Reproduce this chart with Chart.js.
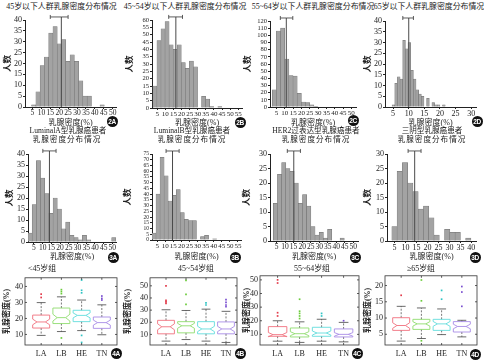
<!DOCTYPE html>
<html><head><meta charset="utf-8">
<script src="https://cdn.jsdelivr.net/npm/chart.js@4.4.1/dist/chart.umd.min.js"></script>
<style>
html,body{margin:0;padding:0;background:#fff}
body{width:484px;height:360px;position:relative;overflow:hidden}
.t{position:absolute;white-space:nowrap;transform:translate(-50%,-50%);font-family:"Liberation Serif","Noto Sans CJK SC",serif;font-size:7.9px;line-height:1;color:#222}
.bd{position:absolute;width:11px;height:11px;margin:-5.5px 0 0 -5.5px;border-radius:50%;background:#111;color:#fff;font:bold 6.5px "Liberation Sans",sans-serif;display:flex;align-items:center;justify-content:center;letter-spacing:-0.3px}
canvas{position:absolute}
</style></head><body>
<script>
// ================= DATA =================
const xAxisTitle = '乳腺密度(%)';
const yAxisTitle = '人数';
const boxGroups = ['LA', 'LB', 'HE', 'TN'];

// Fig 2A  <45
const bins2A   = [5.7, 8.1, 10.5, 12.9, 15.3, 17.7, 20.1, 22.5, 24.9, 27.3, 29.7, 32.1, 34.5, 36.9, 39.3, 41.7, 44.1];
const counts2A = [1, 7, 19, 23, 34, 37, 29, 31, 21, 24, 21, 12, 5, 5, 0, 0, 1];
const mean2A   = [15.0, 21.2, 25.0];
const xTicks2A = [5, 10, 15, 20, 25, 30, 35, 40, 45, 50];
const yTicks2A = [0, 5, 10, 15, 20, 25, 30, 35, 40];

// Fig 2B  45~54
const bins2B   = [3.6, 6.1, 8.6, 11.1, 13.6, 16.1, 18.6, 21.1, 23.6, 26.1, 28.6, 31.1, 33.6, 36.1, 38.6, 41.1, 43.6];
const counts2B = [15, 46, 54, 59, 43, 40, 43, 31, 27, 32, 28, 0, 8, 6, 1, 0, 1];
const mean2B   = [12.1, 16.5, 20.6];
const xTicks2B = [5, 10, 15, 20, 25, 30, 35, 40, 45, 50, 55];
const yTicks2B = [0, 5, 10, 15, 20, 25, 30, 35, 40, 45, 50, 55, 60];

// Fig 2C  55~64
const bins2C   = [3.7, 6.2, 8.7, 11.2, 13.7, 16.2, 18.7, 21.2, 23.7, 26.2, 28.7];
const counts2C = [24, 106, 110, 67, 44, 43, 19, 7, 6, 3, 1];
const mean2C   = [7.3, 10.9, 14.8];
const xTicks2C = [5, 10, 15, 20, 25, 30, 35, 40, 45, 50];
const yTicks2C = [0, 10, 20, 30, 40, 50, 60, 70, 80, 90, 100, 110, 120];

// Fig 2D  >=65
const bins2D   = [5.1, 5.95, 6.8, 7.65, 8.5, 9.35, 10.2, 11.05, 11.9, 12.75, 13.6, 14.45, 15.3, 16.15, 17.0, 17.85, 18.7, 19.55, 20.4, 21.25];
const counts2D = [1, 11, 14, 13, 31, 27, 30, 17, 13, 8, 6, 5, 0, 4, 0, 2, 1, 1, 0, 1];
const mean2D   = [8.1, 10.0, 11.5];
const xTicks2D = [5, 10, 15, 20, 25, 30];
const yTicks2D = [0, 5, 10, 15, 20, 25, 30, 35, 40];

// Fig 3A  Luminal A
const bins3A   = [2.8, 5.2, 7.6, 10.0, 12.4, 14.8, 17.2, 19.6, 22.0, 24.4, 26.8, 29.2, 31.6, 34.0, 36.4, 38.8, 41.2, 43.6, 46.0, 48.4, 50.8];
const counts3A = [4, 17, 37, 29, 22, 13, 20, 15, 6, 9, 3, 2, 1, 3, 1, 0, 0, 0, 0, 0, 2];
const mean3A   = [10.1, 13.9, 17.7];
const xTicks3A = [5, 10, 15, 20, 25, 30, 35, 40, 45, 50];
const yTicks3A = [0, 5, 10, 15, 20, 25, 30, 35, 40];

// Fig 3B  Luminal B
const bins3B   = [3.05, 5.55, 8.05, 10.55, 13.05, 15.55, 18.05, 20.55, 23.05, 25.55, 28.05, 30.55, 33.05, 35.55, 38.05, 40.55];
const counts3B = [6, 40, 72, 56, 34, 39, 44, 24, 18, 17, 17, 0, 3, 4, 0, 1];
const mean3B   = [10.5, 14.5, 18.6];
const xTicks3B = [5, 10, 15, 20, 25, 30, 35, 40, 45, 50, 55];
const yTicks3B = [0, 5, 10, 15, 20, 25, 30, 35, 40, 45, 50, 55, 60, 65, 70, 75];

// Fig 3C  HER2
const bins3C   = [4.3, 6.75, 9.2, 11.65, 14.1, 16.55, 19.0, 21.45, 23.9, 26.35, 28.8, 31.25, 33.7, 36.15, 38.6, 41.05, 43.5];
const counts3C = [13, 23, 27, 25, 24, 20, 13, 16, 12, 5, 2, 3, 1, 4, 0, 0, 1];
const mean3C   = [11.3, 15.1, 19.0];
const xTicks3C = [5, 10, 15, 20, 25, 30, 35, 40, 45, 50];
const yTicks3C = [0, 5, 10, 15, 20, 25, 30];

// Fig 3D  triple negative
const bins3D   = [5.0, 7.4, 9.8, 12.2, 14.6, 17.0, 19.4, 21.8, 24.2, 26.6, 29.0, 31.4, 33.8, 36.2, 38.6];
const counts3D = [5, 24, 27, 20, 17, 11, 12, 8, 2, 0, 4, 3, 3, 0, 1];
const mean3D   = [11.2, 14.2, 17.1];
const xTicks3D = [5, 10, 15, 20, 25, 30, 35, 40];
const yTicks3D = [0, 5, 10, 15, 20, 25, 30];

// Fig 4A  <45   (order LA, LB, HE, TN)
const lo4A  = [9.4, 11.8, 12.4, 9.8];
const q1_4A = [14.0, 16.8, 18.0, 13.8];
const med4A = [17.8, 20.5, 21.9, 17.4];
const q3_4A = [22.1, 26.5, 25.1, 20.9];
const hi4A  = [29.9, 33.5, 31.5, 28.5];
const out4A = [[33.1, 35.2], [35.5, 36.8, 38.0, 7.8], [36.0, 37.6, 44.0, 9.4, 5.0], [31.5, 32.5, 34.0]];
const yTicks4A = [10, 20, 30, 40];

// Fig 4B  45~54
const lo4B  = [4.5, 5.8, 4.5, 3.4];
const q1_4B = [10.5, 11.3, 10.5, 10.5];
const med4B = [16.3, 17.1, 14.5, 14.5];
const q3_4B = [21.6, 20.5, 20.5, 20.3];
const hi4B  = [30.3, 29.7, 30.8, 29.0];
const out4B = [[35.5, 36.8, 38.0, 50.0], [34.7, 43.0, 54.5], [34.2, 36.0], [32.9, 34.2, 36.3, 38.7]];
const yTicks4B = [10, 20, 30, 40, 50];

// Fig 4C  55~64
const lo4C  = [5.0, 4.1, 5.0, 4.5];
const q1_4C = [8.6, 8.1, 8.6, 8.1];
const med4C = [9.8, 10.5, 11.0, 10.0];
const q3_4C = [15.7, 14.7, 15.2, 14.0];
const hi4C  = [20.0, 19.2, 21.1, 18.8];
const out4C = [[23.5, 25.9, 47.7, 50.0], [21.6, 23.5, 25.4, 27.0, 35.8], [23.5, 25.4], [20.0]];
const yTicks4C = [10, 20, 30, 40, 50];

// Fig 4D  >=65
const lo4D  = [2.9, 3.7, 4.9, 4.2];
const q1_4D = [6.2, 6.5, 6.2, 5.7];
const med4D = [7.7, 8.2, 8.2, 7.4];
const q3_4D = [10.1, 9.6, 9.6, 8.9];
const hi4D  = [13.6, 13.1, 12.8, 9.3];
const out4D = [[17.0], [15.3, 21.7, 3.0], [15.8, 18.5], [13.6, 18.0, 19.7]];
const yTicks4D = [5, 10, 15, 20];

// ================= RENDER =================
const SERIF = '"Liberation Serif","Noto Sans CJK SC",serif';
Chart.defaults.font.family = SERIF;
Chart.defaults.color = '#222';
Chart.defaults.animation = false;
Chart.defaults.plugins.legend.display = false;
Chart.defaults.plugins.tooltip.enabled = false;

const BOX_LINE = ['#f0707e', '#8fdc6e', '#62dcdc', '#a88ce6'];
const BOX_DOT  = ['#e23a4a', '#6ccc3c', '#30c4c4', '#7a4fd0'];

function mkCanvas(l, t, w, h) {
  const c = document.createElement('canvas');
  c.width = w; c.height = h;
  c.style.cssText = `left:${l}px;top:${t}px;width:${w}px;height:${h}px`;
  document.body.appendChild(c);
  return c;
}
function text(str, x, y, size, extra) {
  const d = document.createElement('div');
  d.className = 't'; d.textContent = str;
  d.style.left = x + 'px'; d.style.top = y + 'px';
  if (size) d.style.fontSize = size + 'px';
  if (extra) Object.assign(d.style, extra);
  document.body.appendChild(d);
}
function badge(str, x, y) {
  const d = document.createElement('div');
  d.className = 'bd'; d.textContent = str;
  d.style.left = x + 'px'; d.style.top = y + 'px';
  document.body.appendChild(d);
}

function hist(p) {
  const W = p.cv.r - p.cv.l, H = p.cv.b - p.cv.t;
  const c = mkCanvas(p.cv.l, p.cv.t, W, H);
  const top = p.yTicks[p.yTicks.length - 1] * 1.035;
  new Chart(c, {
    type: 'bar',
    data: { datasets: [
      { type: 'bar', data: p.bins.map((x, i) => ({ x, y: p.counts[i] })),
        backgroundColor: '#a3a3a3', borderColor: '#6f6f6f', borderWidth: 0.5,
        barPercentage: 1, categoryPercentage: 1, order: 3 },
      { type: 'line', data: [{ x: p.mean[1], y: 0 }, { x: p.mean[1], y: top }],
        borderColor: '#4a4a4a', borderWidth: 1, pointRadius: 0, clip: false, order: 2 },
      { type: 'line', data: [{ x: p.mean[0], y: top }, { x: p.mean[1], y: top }, { x: p.mean[2], y: top }],
        borderColor: '#333', borderWidth: 0.8, pointStyle: 'line', rotation: 90,
        pointRadius: [2, 0, 2], pointBorderColor: '#333', pointBorderWidth: 0.8, clip: false, order: 1 }
    ] },
    options: {
      responsive: false,
      layout: { padding: { left: 0, top: p.area.t - p.cv.t, right: p.cv.r - p.area.r, bottom: 0 } },
      scales: {
        x: { type: 'linear', min: p.xMin, max: p.xMax, offset: false,
          afterBuildTicks: s => { s.ticks = p.xTicks.map(v => ({ value: v })); },
          afterFit: s => { s.height = p.cv.b - p.area.b; },
          ticks: { autoSkip: false, maxRotation: 0, minRotation: 0, font: { size: p.xFont }, padding: 0, color: '#222' },
          grid: { drawOnChartArea: false, drawTicks: true, tickLength: 2, color: '#222', offset: false },
          border: { display: true, color: '#222', width: 1 },
          title: { display: true, text: xAxisTitle, font: { size: 8 }, padding: 0, color: '#222' } },
        y: { min: 0, max: p.yTicks[p.yTicks.length - 1],
          afterBuildTicks: s => { s.ticks = p.yTicks.map(v => ({ value: v })); },
          afterFit: s => { s.width = p.area.l - p.cv.l; },
          ticks: { autoSkip: false, font: { size: p.yFont }, padding: 1, color: '#222' },
          grid: { drawOnChartArea: false, drawTicks: true, tickLength: 2, color: '#222' },
          border: { display: true, color: '#222', width: 1 },
          title: { display: true, text: yAxisTitle, font: { size: 8.5, weight: 'bold' }, padding: { top: p.yTitlePad, bottom: 0 }, color: '#222' } }
      }
    }
  });
}

function boxplot(p) {
  const W = p.cv.r - p.cv.l, H = p.cv.b - p.cv.t;
  const c = mkCanvas(p.cv.l, p.cv.t, W, H);
  const BOXW = 0.84, CAPW = 0.44;
  const drawer = {
    id: 'notchedBoxes',
    beforeDatasetsDraw(chart) {
      const ctx = chart.ctx, xs = chart.scales.x, ys = chart.scales.y;
      const hw = (xs.getPixelForValue(1 + BOXW / 2) - xs.getPixelForValue(1));
      const cw = (xs.getPixelForValue(1 + CAPW / 2) - xs.getPixelForValue(1));
      ctx.save();
      boxGroups.forEach((g, i) => {
        const xc = xs.getPixelForValue(i + 1);
        const yq1 = ys.getPixelForValue(p.q1[i]), yq3 = ys.getPixelForValue(p.q3[i]);
        const ym = ys.getPixelForValue(p.med[i]);
        const nd = 0.22 * (p.q3[i] - p.q1[i]);
        const yn1 = ys.getPixelForValue(p.med[i] - nd), yn2 = ys.getPixelForValue(p.med[i] + nd);
        const ylo = ys.getPixelForValue(p.lo[i]), yhi = ys.getPixelForValue(p.hi[i]);
        const nw = hw * 0.5;
        ctx.strokeStyle = '#555'; ctx.lineWidth = 0.8; ctx.setLineDash([2, 1.5]);
        ctx.beginPath(); ctx.moveTo(xc, yq3); ctx.lineTo(xc, yhi); ctx.moveTo(xc, yq1); ctx.lineTo(xc, ylo); ctx.stroke();
        ctx.setLineDash([]);
        ctx.strokeStyle = '#444';
        ctx.beginPath(); ctx.moveTo(xc - cw, yhi); ctx.lineTo(xc + cw, yhi); ctx.moveTo(xc - cw, ylo); ctx.lineTo(xc + cw, ylo); ctx.stroke();
        ctx.strokeStyle = BOX_LINE[i]; ctx.lineWidth = 0.9;
        ctx.beginPath();
        ctx.moveTo(xc - hw, yq1); ctx.lineTo(xc - hw, yn1); ctx.lineTo(xc - nw, ym); ctx.lineTo(xc - hw, yn2);
        ctx.lineTo(xc - hw, yq3); ctx.lineTo(xc + hw, yq3); ctx.lineTo(xc + hw, yn2); ctx.lineTo(xc + nw, ym);
        ctx.lineTo(xc + hw, yn1); ctx.lineTo(xc + hw, yq1); ctx.closePath(); ctx.stroke();
        ctx.beginPath(); ctx.moveTo(xc - nw, ym); ctx.lineTo(xc + nw, ym); ctx.stroke();
      });
      ctx.restore();
    },
    afterDraw(chart) {
      const ctx = chart.ctx, a = chart.chartArea, xs = chart.scales.x, ys = chart.scales.y;
      ctx.save();
      ctx.strokeStyle = '#333'; ctx.lineWidth = 0.8;
      ctx.strokeRect(a.left, a.top, a.right - a.left, a.bottom - a.top);
      ctx.beginPath();
      ys.ticks.forEach(t => { const y = ys.getPixelForValue(t.value); ctx.moveTo(a.left, y); ctx.lineTo(a.left + 2, y); ctx.moveTo(a.right, y); ctx.lineTo(a.right - 2, y); });
      xs.ticks.forEach(t => { const x = xs.getPixelForValue(t.value); ctx.moveTo(x, a.bottom); ctx.lineTo(x, a.bottom - 2); ctx.moveTo(x, a.top); ctx.lineTo(x, a.top + 2); });
      ctx.stroke();
      ctx.restore();
    }
  };
  new Chart(c, {
    type: 'scatter',
    data: { datasets: boxGroups.map((g, i) => ({
      label: g, data: p.out[i].map(v => ({ x: i + 1, y: v })),
      pointRadius: 1.2, pointStyle: 'rect', backgroundColor: BOX_DOT[i], borderWidth: 0, clip: false })) },
    options: {
      responsive: false,
      layout: { padding: { left: 0, top: p.area.t - p.cv.t, right: p.cv.r - p.area.r, bottom: 0 } },
      scales: {
        x: { type: 'linear', min: p.xr[0], max: p.xr[1],
          afterBuildTicks: s => { s.ticks = boxGroups.map((g, i) => ({ value: i + 1 })); },
          afterFit: s => { s.height = p.cv.b - p.area.b; },
          ticks: { autoSkip: false, maxRotation: 0, callback: v => boxGroups[v - 1], font: { size: 8 }, padding: 4, color: '#222' },
          grid: { display: false, drawTicks: false }, border: { display: false } },
        y: { min: p.yr[0], max: p.yr[1],
          afterBuildTicks: s => { s.ticks = p.yTicks.map(v => ({ value: v })); },
          afterFit: s => { s.width = p.area.l - p.cv.l; },
          ticks: { autoSkip: false, font: { size: 8 }, padding: 2, color: '#222' },
          grid: { display: false, drawTicks: false }, border: { display: false },
          title: { display: true, text: xAxisTitle, font: { size: 8, weight: 'bold' }, padding: { top: p.yTitlePad, bottom: 0 }, color: '#222' } }
      }
    },
    plugins: [drawer]
  });
}

// ---- Row 1 ----
text('45岁以下人群乳腺密度分布情况', 61.5, 7);
text('45~54岁以下人群乳腺密度分布情况', 185, 7);
text('55~64岁以下人群乳腺密度分布情况', 313, 7);
text('65岁以下人群乳腺密度分布情况', 429, 7);

hist({ cv: { l: 0, t: 14, r: 121, b: 128 }, area: { l: 25, t: 20, r: 117, b: 107 }, bins: bins2A, counts: counts2A, mean: mean2A,
  xMin: 0.8, xMax: 52, xTicks: xTicks2A, yTicks: yTicks2A, xFont: 7.5, yFont: 8, yTitlePad: 3 });
hist({ cv: { l: 121, t: 14, r: 247, b: 128 }, area: { l: 152, t: 20, r: 244, b: 108 }, bins: bins2B, counts: counts2B, mean: mean2B,
  xMin: 1.8, xMax: 57.4, xTicks: xTicks2B, yTicks: yTicks2B, xFont: 7, yFont: 6.5, yTitlePad: 4 });
hist({ cv: { l: 241, t: 14, r: 361, b: 128 }, area: { l: 270, t: 21, r: 358, b: 107 }, bins: bins2C, counts: counts2C, mean: mean2C,
  xMin: 1.1, xMax: 52.9, xTicks: xTicks2C, yTicks: yTicks2C, xFont: 7, yFont: 6.5, yTitlePad: 2 });
hist({ cv: { l: 361, t: 14, r: 481, b: 128 }, area: { l: 385, t: 21, r: 478, b: 107 }, bins: bins2D, counts: counts2D, mean: mean2D,
  xMin: 2.4, xMax: 31.6, xTicks: xTicks2D, yTicks: yTicks2D, xFont: 8, yFont: 8, yTitlePad: 2 });

badge('2A', 112, 121); badge('2B', 240, 122); badge('2C', 353, 120); badge('2D', 477, 121);

// ---- Row 2 ----
text('LuminalA型乳腺癌患者', 68, 131, 7.6); text('乳腺密度分布情况', 67, 139.5, 7.6, { letterSpacing: '1px' });
text('LuminalB型乳腺癌患者', 192, 131, 7.6); text('乳腺密度分布情况', 192, 139.5, 7.6, { letterSpacing: '1px' });
text('HER2过表达型乳腺癌患者', 316, 131, 7.6); text('乳腺密度分布情况', 316, 139.5, 7.6, { letterSpacing: '1px' });
text('三阴型乳腺癌患者', 432, 131, 7.6); text('乳腺密度分布情况', 432, 139.5, 7.6, { letterSpacing: '1px' });

hist({ cv: { l: 0, t: 146, r: 121, b: 262 }, area: { l: 28, t: 154, r: 117, b: 242 }, bins: bins3A, counts: counts3A, mean: mean3A,
  xMin: 1.6, xMax: 52.2, xTicks: xTicks3A, yTicks: yTicks3A, xFont: 7.5, yFont: 8, yTitlePad: 5 });
hist({ cv: { l: 121, t: 146, r: 246, b: 262 }, area: { l: 152, t: 154, r: 243, b: 240 }, bins: bins3B, counts: counts3B, mean: mean3B,
  xMin: 1.8, xMax: 57, xTicks: xTicks3B, yTicks: yTicks3B, xFont: 7, yFont: 5.5, yTitlePad: 2 });
hist({ cv: { l: 241, t: 146, r: 363, b: 262 }, area: { l: 270, t: 154, r: 360, b: 241 }, bins: bins3C, counts: counts3C, mean: mean3C,
  xMin: 1.15, xMax: 52.9, xTicks: xTicks3C, yTicks: yTicks3C, xFont: 7.5, yFont: 8, yTitlePad: 1 });
hist({ cv: { l: 361, t: 146, r: 481, b: 262 }, area: { l: 387, t: 154, r: 478, b: 241 }, bins: bins3D, counts: counts3D, mean: mean3D,
  xMin: 1.6, xMax: 42.2, xTicks: xTicks3D, yTicks: yTicks3D, xFont: 8, yFont: 8, yTitlePad: 2 });

badge('3A', 113, 257); badge('3B', 235, 257); badge('3C', 355, 257); badge('3D', 475, 257);

// ---- Row 3 ----
text('<45岁组', 42, 269);
text('45~54岁组', 196, 269);
text('55~64岁组', 312, 269);
text('≥65岁组', 421, 269);

boxplot({ cv: { l: 0, t: 271, r: 121, b: 360 }, area: { l: 25, t: 275, r: 118, b: 345 },
  lo: lo4A, q1: q1_4A, med: med4A, q3: q3_4A, hi: hi4A, out: out4A, yTicks: yTicks4A, xr: [0.2, 4.75], yr: [3.4, 45.4], yTitlePad: 2 });
boxplot({ cv: { l: 121, t: 271, r: 241, b: 360 }, area: { l: 150, t: 275, r: 238, b: 345 },
  lo: lo4B, q1: q1_4B, med: med4B, q3: q3_4B, hi: hi4B, out: out4B, yTicks: yTicks4B, xr: [0.2, 4.55], yr: [1.3, 56.6], yTitlePad: 2 });
boxplot({ cv: { l: 241, t: 269, r: 363, b: 360 }, area: { l: 260, t: 273, r: 360, b: 345 },
  lo: lo4C, q1: q1_4C, med: med4C, q3: q3_4C, hi: hi4C, out: out4C, yTicks: yTicks4C, xr: [0.2, 4.7], yr: [2.2, 53], yTitlePad: 1 });
boxplot({ cv: { l: 361, t: 269, r: 481, b: 360 }, area: { l: 385, t: 273, r: 478, b: 345 },
  lo: lo4D, q1: q1_4D, med: med4D, q3: q3_4D, hi: hi4D, out: out4D, yTicks: yTicks4D, xr: [0.2, 4.75], yr: [1.7, 23], yTitlePad: 2 });

badge('4A', 116, 353); badge('4B', 240, 353); badge('4C', 357, 353); badge('4D', 475, 354);
</script>
</body></html>
